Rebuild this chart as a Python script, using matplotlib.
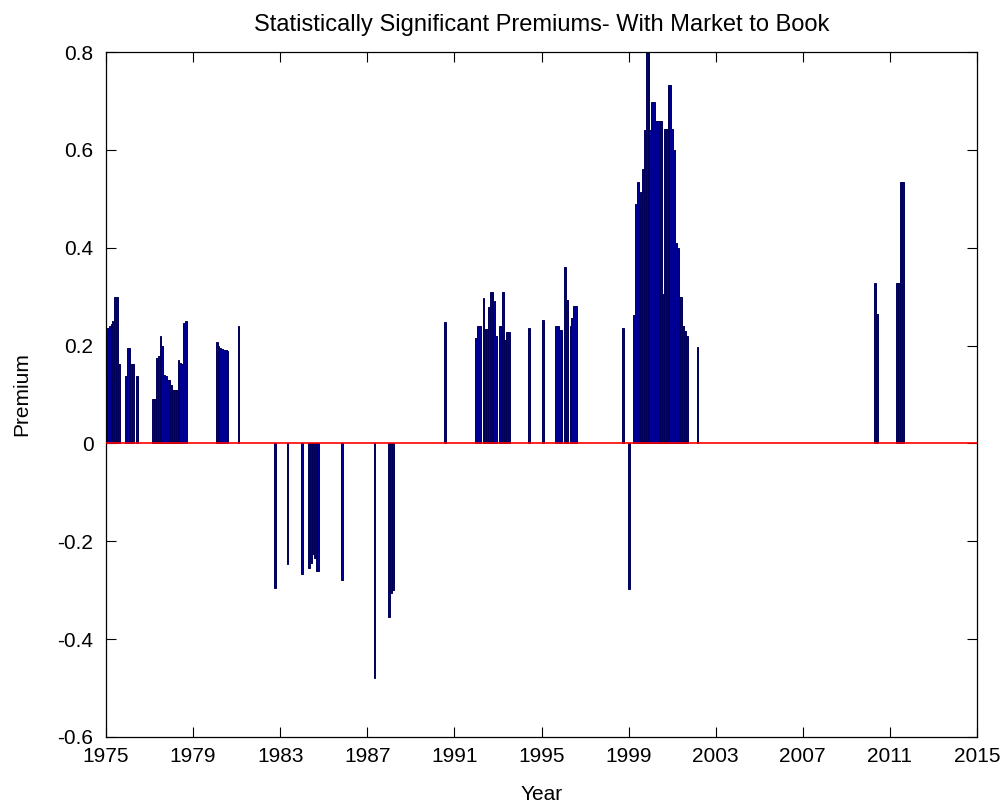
import matplotlib
matplotlib.use("Agg")
import matplotlib.pyplot as plt
import numpy as np

# Months since Jan 1975 and the statistically significant premium in that month
month_index = [0, 1, 2, 3, 4, 5, 6, 7,
               11, 12, 13, 14, 15, 17,
               26, 27, 28, 29, 30, 31, 32, 33, 34, 35, 36, 37, 38, 39, 40, 41, 42, 43, 44,
               61, 62, 63, 64, 65, 66, 67, 73,
               93, 100, 108, 112, 113, 114, 115, 116, 117, 130, 148, 156, 157, 158,
               187,
               204, 205, 206, 208, 209, 210, 211, 212, 213, 214, 215,
               217, 218, 219, 220, 221, 222, 233, 241,
               248, 249, 250, 251, 253, 254, 256, 257, 258, 259,
               285, 288,
               291, 292, 293, 294, 295, 296, 297, 298, 299, 300, 301, 302, 303, 304, 305,
               306, 307, 308, 309, 310, 311, 312, 313, 314, 315, 316, 317, 318, 319, 320,
               326, 424, 425, 436, 437, 438, 439]
premium = [0.145, 0.235, 0.24, 0.245, 0.25, 0.30, 0.30, 0.163,
           0.137, 0.196, 0.196, 0.163, 0.163, 0.137,
           0.09, 0.09, 0.175, 0.178, 0.22, 0.20, 0.14, 0.137, 0.13, 0.13, 0.12, 0.11, 0.11,
           0.11, 0.17, 0.165, 0.163, 0.247, 0.25,
           0.207, 0.20, 0.196, 0.194, 0.19, 0.19, 0.188, 0.24,
           -0.295, -0.246, -0.266, -0.255, -0.245, -0.225, -0.235, -0.26, -0.26, -0.279,
           -0.48, -0.355, -0.305, -0.30,
           0.248,
           0.216, 0.24, 0.24, 0.298, 0.233, 0.233, 0.279, 0.309, 0.309, 0.292, 0.22,
           0.241, 0.241, 0.309, 0.212, 0.228, 0.228, 0.236, 0.253,
           0.241, 0.241, 0.232, 0.232, 0.36, 0.294, 0.24, 0.257, 0.28, 0.28,
           0.236, -0.298,
           0.262, 0.49, 0.534, 0.486, 0.514, 0.561, 0.64, 0.80, 0.80, 0.64, 0.698, 0.698,
           0.66, 0.66, 0.66, 0.66, 0.306, 0.642, 0.642, 0.732, 0.732, 0.643, 0.60, 0.41,
           0.40, 0.30, 0.30, 0.24, 0.23, 0.22,
           0.198, 0.327, 0.265, 0.327, 0.327, 0.535, 0.535]

x_ticks = list(range(1975, 2016, 4))
y_ticks = [-0.6, -0.4, -0.2, 0, 0.2, 0.4, 0.6, 0.8]
y_tick_labels = ['-0.6', '-0.4', '-0.2', '0', '0.2', '0.4', '0.6', '0.8']

years = 1975 + np.array(month_index) / 12.0

plt.rcParams['font.family'] = ['Liberation Sans', 'DejaVu Sans']

fig = plt.figure(figsize=(10.08, 8.10), dpi=100)
ax = fig.add_axes([106 / 1008, 1 - 737 / 810, 871 / 1008, 685 / 810])

ax.bar(years, premium, width=1 / 12, align='center', color='#000096',
       edgecolor='#000058', linewidth=0.7, zorder=2)
ax.axhline(0, color='red', linewidth=1.2, zorder=3)

ax.set_xlim(1975, 2015)
ax.set_ylim(-0.6, 0.8)
ax.set_xticks(x_ticks)
ax.set_xticklabels([str(t) for t in x_ticks])
ax.set_yticks(y_ticks)
ax.set_yticklabels(y_tick_labels)
ax.tick_params(direction='in', top=True, right=True, length=7, width=0.8,
               labelsize=15, colors='black')
ax.tick_params(axis='x', pad=7)
ax.tick_params(axis='y', pad=9)
for s in ax.spines.values():
    s.set_linewidth(0.9)

ax.set_title('Statistically Significant Premiums- With Market to Book', fontsize=17, pad=15)
ax.set_xlabel('Year', fontsize=15, labelpad=14)
ax.set_ylabel('Premium', fontsize=15, labelpad=19)

fig.savefig('out.png', dpi=100)
